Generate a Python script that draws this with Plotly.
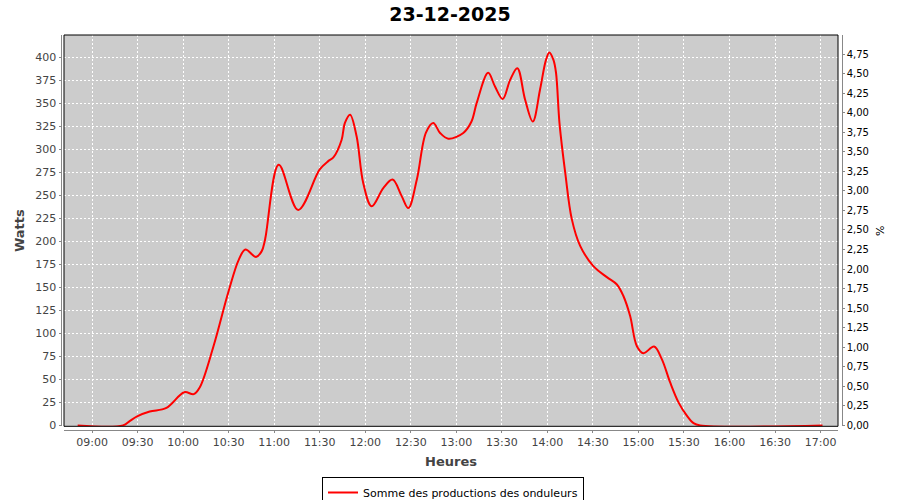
import plotly.graph_objects as go

DAY = "2025-12-23"
TITLE = "23-12-2025"
SERIES_NAME = "Somme des productions des onduleurs"

heures = [
    "08:50:30", "09:20:24", "09:25", "09:30", "09:38", "09:49", "10:00:42", "10:07", "10:11",
    "10:20", "10:30", "10:36:42", "10:41", "10:48", "10:51:42", "10:54", "11:03", "11:15:48",
    "11:30", "11:35:36", "11:39", "11:44:24", "11:46:36", "11:50", "11:54:18", "11:58:42",
    "12:04:12", "12:12", "12:18", "12:24", "12:28:24", "12:34", "12:40", "12:44:48",
    "12:49:18", "12:54:42", "13:04:36", "13:10", "13:13:24", "13:21", "13:25:30",
    "13:30:36", "13:35:24", "13:40:12", "13:45:18", "13:50:24", "13:55:12", "13:59:06",
    "14:01:18", "14:04", "14:05:42", "14:08", "14:11:48", "14:16:06", "14:21:36",
    "14:30:18", "14:39:12", "14:45:48", "14:50:06", "14:54:30", "14:59", "15:03:18",
    "15:10:18", "15:15:24", "15:20:54", "15:26:24", "15:31:54", "15:36:18", "15:40:42",
    "17:01:18",
]
watts = [
    0, 0, 5, 10, 15, 19, 36, 34, 41.5,
    86, 146, 180, 191, 183, 189, 202, 283, 234,
    278, 287, 291, 310, 328.5, 337.5, 314, 263,
    238, 258, 267, 249, 236, 267, 318, 328.5,
    317.6, 311.4, 317.6, 330, 350, 383, 368,
    354.5, 375, 388, 354, 330, 365, 397,
    405, 397, 383, 328, 274, 224, 195,
    173, 161, 153, 140.5, 119, 86, 78.4,
    85.6, 72, 46.6, 25, 10.5, 2.5, 0,
    0,
]

x_range = ["08:41:30", "17:11:30"]
y_range = [-1, 424]
pct_range = [-0.0125, 4.995]

GRAY_TXT = "#444444"
AXIS_GRAY = "#888888"
FONT = "DejaVu Sans"

x = [f"{DAY} {h}" for h in heures]

fig = go.Figure()
fig.add_trace(go.Scatter(x=x, y=watts, name=SERIES_NAME, mode="lines",
                         line=dict(color="#FF0000", width=2, shape="spline", smoothing=1)))
# axe secondaire (%) sans données, seulement pour l'échelle
fig.add_trace(go.Scatter(x=[], y=[], yaxis="y2", showlegend=False, hoverinfo="skip"))

# géométrie : marges + domaines pour décaler les axes de la zone de tracé (style JFreeChart)
L, R, T, B = 56, 50, 35, 66
W, H = 900, 500
pw, ph = W - L - R, H - T - B
plot_left, plot_right, plot_bottom = 64, 838, 426.3

grid = dict(showgrid=True, gridcolor="white", gridwidth=1, griddash="2px,2px")
ticks = dict(ticks="outside", ticklen=2, tickcolor=AXIS_GRAY, showline=True,
             linecolor=AXIS_GRAY, linewidth=1, zeroline=False, automargin=False)

fig.update_layout(
    width=W, height=H,
    margin=dict(l=L, r=R, t=T, b=B),
    paper_bgcolor="white", plot_bgcolor="#CCCCCC",
    separators=", ",
    font=dict(family=FONT, size=11, color=GRAY_TXT),
    title=dict(text=f"<b>{TITLE}</b>", x=0.5, xanchor="center", y=1 - 14 / H,
               yanchor="middle", yref="container", font=dict(size=19, color="black")),
    xaxis=dict(type="date", range=[f"{DAY} {x_range[0]}", f"{DAY} {x_range[1]}"],
               domain=[(plot_left - L) / pw, (plot_right - L) / pw],
               anchor="free", position=(T + ph - 430) / ph,
               tick0=f"{DAY} 09:00", dtick=30 * 60 * 1000, tickformat="%H:%M",
               tickfont=dict(size=11, color=GRAY_TXT),
               title=dict(text="<b>Heures</b>", font=dict(size=13, color=GRAY_TXT), standoff=8),
               **grid, **ticks),
    yaxis=dict(range=y_range, dtick=25,
               domain=[(T + ph - plot_bottom) / ph, 1],
               anchor="free", position=(60.5 - L) / pw,
               tickfont=dict(size=11, color=GRAY_TXT),
               title=dict(text="<b>Watts</b>", font=dict(size=13, color=GRAY_TXT), standoff=6),
               **grid, **ticks),
    yaxis2=dict(range=pct_range, dtick=0.25, tickformat=".2f", overlaying="y", side="right",
                anchor="free", position=(841.7 - L) / pw, showgrid=False,
                tickfont=dict(size=10, color="black"),
                title=dict(text="%", font=dict(size=11, color="black"), standoff=8),
                **ticks),
    legend=dict(orientation="h", x=0.5, xanchor="center", y=1 - 477 / H, yanchor="top",
                yref="container", bordercolor="black", borderwidth=1,
                font=dict(size=11, color="black"), bgcolor="white"),
    shapes=[dict(type="rect", xref="x domain", yref="y domain", x0=0, x1=1, y0=0, y1=1,
                 line=dict(color="black", width=1), layer="above")],
    showlegend=True,
)

fig.write_html("out.html", config={"displayModeBar": False},
               post_script="document.body.style.margin='0';")
